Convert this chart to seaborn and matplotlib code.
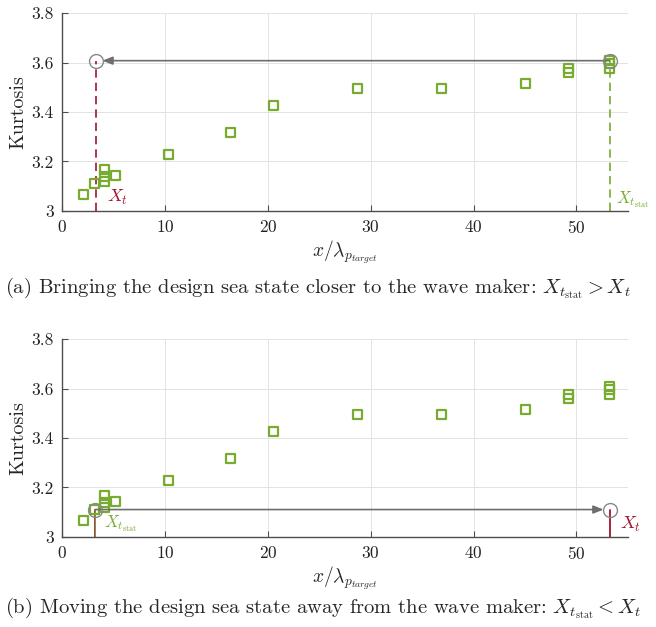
import matplotlib
matplotlib.use("Agg")
import matplotlib.pyplot as plt
import seaborn as sns
import pandas as pd
from matplotlib.ticker import FuncFormatter

# Measured kurtosis along the flume (distance in peak wavelengths)
x_pos = [2.1, 3.1, 4.15, 4.15, 4.15, 5.2, 10.3, 16.4, 20.5, 28.7, 36.9, 45.1,
         49.2, 49.2, 53.25, 53.25, 53.25]
kurtosis = [3.064, 3.109, 3.165, 3.138, 3.118, 3.143, 3.228, 3.318, 3.426, 3.497,
            3.496, 3.516, 3.575, 3.562, 3.608, 3.595, 3.575]

# Target location and the stationary location for the two scenarios
xt_a, xstat_a, k_a = 3.3, 53.25, 3.605
xstat_b, xt_b, k_b = 3.2, 53.25, 3.107

captions = [
    r"(a) Bringing the design sea state closer to the wave maker: $X_{t_{\mathrm{stat}}} > X_t$",
    r"(b) Moving the design sea state away from the wave maker: $X_{t_{\mathrm{stat}}} < X_t$",
]

GREEN = "#77AC30"
RED = "#A2142F"
GRAY = "#6e6e6e"

sns.set_theme(style="white")
plt.rcParams["font.family"] = "serif"
plt.rcParams["font.serif"] = ["cmr10", "DejaVu Serif"]
plt.rcParams["mathtext.fontset"] = "cm"
plt.rcParams["axes.formatter.use_mathtext"] = True

df = pd.DataFrame({"x": x_pos, "k": kurtosis})

W, H = 656, 627
fig = plt.figure(figsize=(W / 100, H / 100), dpi=100)

def px_axes(left, top, right, bottom):
    return fig.add_axes([left / W, 1 - bottom / H, (right - left) / W, (bottom - top) / H])

ax_a = px_axes(62.3, 13.3, 627.7, 210.7)
ax_b = px_axes(62.3, 339.3, 627.7, 536.7)

for ax in (ax_a, ax_b):
    sns.scatterplot(data=df, x="x", y="k", ax=ax, marker="s", s=42,
                    fc="none", ec=GREEN, linewidth=1.6, zorder=3)
    ax.set_xlim(0, 55)
    ax.set_ylim(3.0, 3.8)
    ax.set_xticks([0, 10, 20, 30, 40, 50])
    ax.set_yticks([3.0, 3.2, 3.4, 3.6, 3.8])
    ax.yaxis.set_major_formatter(FuncFormatter(lambda v, p: f"{v:g}"))
    ax.grid(True, color="#e3e3e3", linewidth=0.7)
    ax.set_axisbelow(True)
    for s in ("top", "right"):
        ax.spines[s].set_visible(False)
    for s in ("left", "bottom"):
        ax.spines[s].set_color("#4d4d4d")
        ax.spines[s].set_linewidth(1.0)
    ax.tick_params(direction="in", length=4, width=0.8, color="#4d4d4d",
                   labelsize=12.5, labelcolor="#222222", pad=6,
                   left=True, bottom=True)
    ax.set_xlabel(r"$x/\lambda_{p_{target}}$", fontsize=14, labelpad=2)
    ax.set_ylabel("Kurtosis", fontsize=14.5, labelpad=3)

# (a) stationary point moved back to the target location
ax = ax_a
ax.plot([xt_a, xt_a], [3.0, k_a], color=RED, ls=(0, (5, 3)), lw=1.2, zorder=2)
ax.plot([xstat_a, xstat_a], [3.0, k_a], color=GREEN, ls=(0, (5, 3)), lw=1.2, zorder=2)
ax.annotate("", xy=(xt_a + 0.6, k_a + 0.003), xytext=(xstat_a, k_a + 0.003),
            arrowprops=dict(arrowstyle="-|>,head_length=0.5,head_width=0.2",
                            color=GRAY, lw=1.2, shrinkA=0, shrinkB=0), zorder=4)
ax.plot([xt_a, xstat_a], [k_a, k_a], ls="none", marker="o", ms=10,
        mfc="none", mec="#888888", mew=1.0, zorder=5)
ax.text(xt_a + 1.0, 3.035, r"$X_t$", color=RED, fontsize=13)
ax.text(xstat_a + 0.6, 3.03, r"$X_{t_{\mathrm{stat}}}$", color=GREEN, fontsize=12)

# (b) target moved away from the stationary location
ax = ax_b
ax.plot([xstat_b, xstat_b], [3.0, k_b], color=RED, lw=1.2, zorder=2)
ax.plot([xstat_b, xstat_b], [3.0, k_b], color=GREEN, lw=0.6, zorder=2)
ax.plot([xt_b, xt_b], [3.0, k_b], color=RED, lw=1.3, zorder=2)
ax.annotate("", xy=(xt_b - 0.6, k_b + 0.003), xytext=(xstat_b, k_b + 0.003),
            arrowprops=dict(arrowstyle="-|>,head_length=0.5,head_width=0.2",
                            color=GRAY, lw=1.2, shrinkA=0, shrinkB=0), zorder=4)
ax.plot([xstat_b, xt_b], [k_b, k_b], ls="none", marker="o", ms=10,
        mfc="none", mec="#888888", mew=1.0, zorder=5)
ax.text(xstat_b + 0.9, 3.04, r"$X_{t_{\mathrm{stat}}}$", color=GREEN, fontsize=12)
ax.text(xt_b + 1.0, 3.03, r"$X_t$", color=RED, fontsize=13)

fig.text(5 / W, 1 - 288 / H, captions[0], fontsize=14.8, va="center", ha="left")
fig.text(5 / W, 1 - 608 / H, captions[1], fontsize=14.8, va="center", ha="left")

fig.savefig("out.png", dpi=100)
